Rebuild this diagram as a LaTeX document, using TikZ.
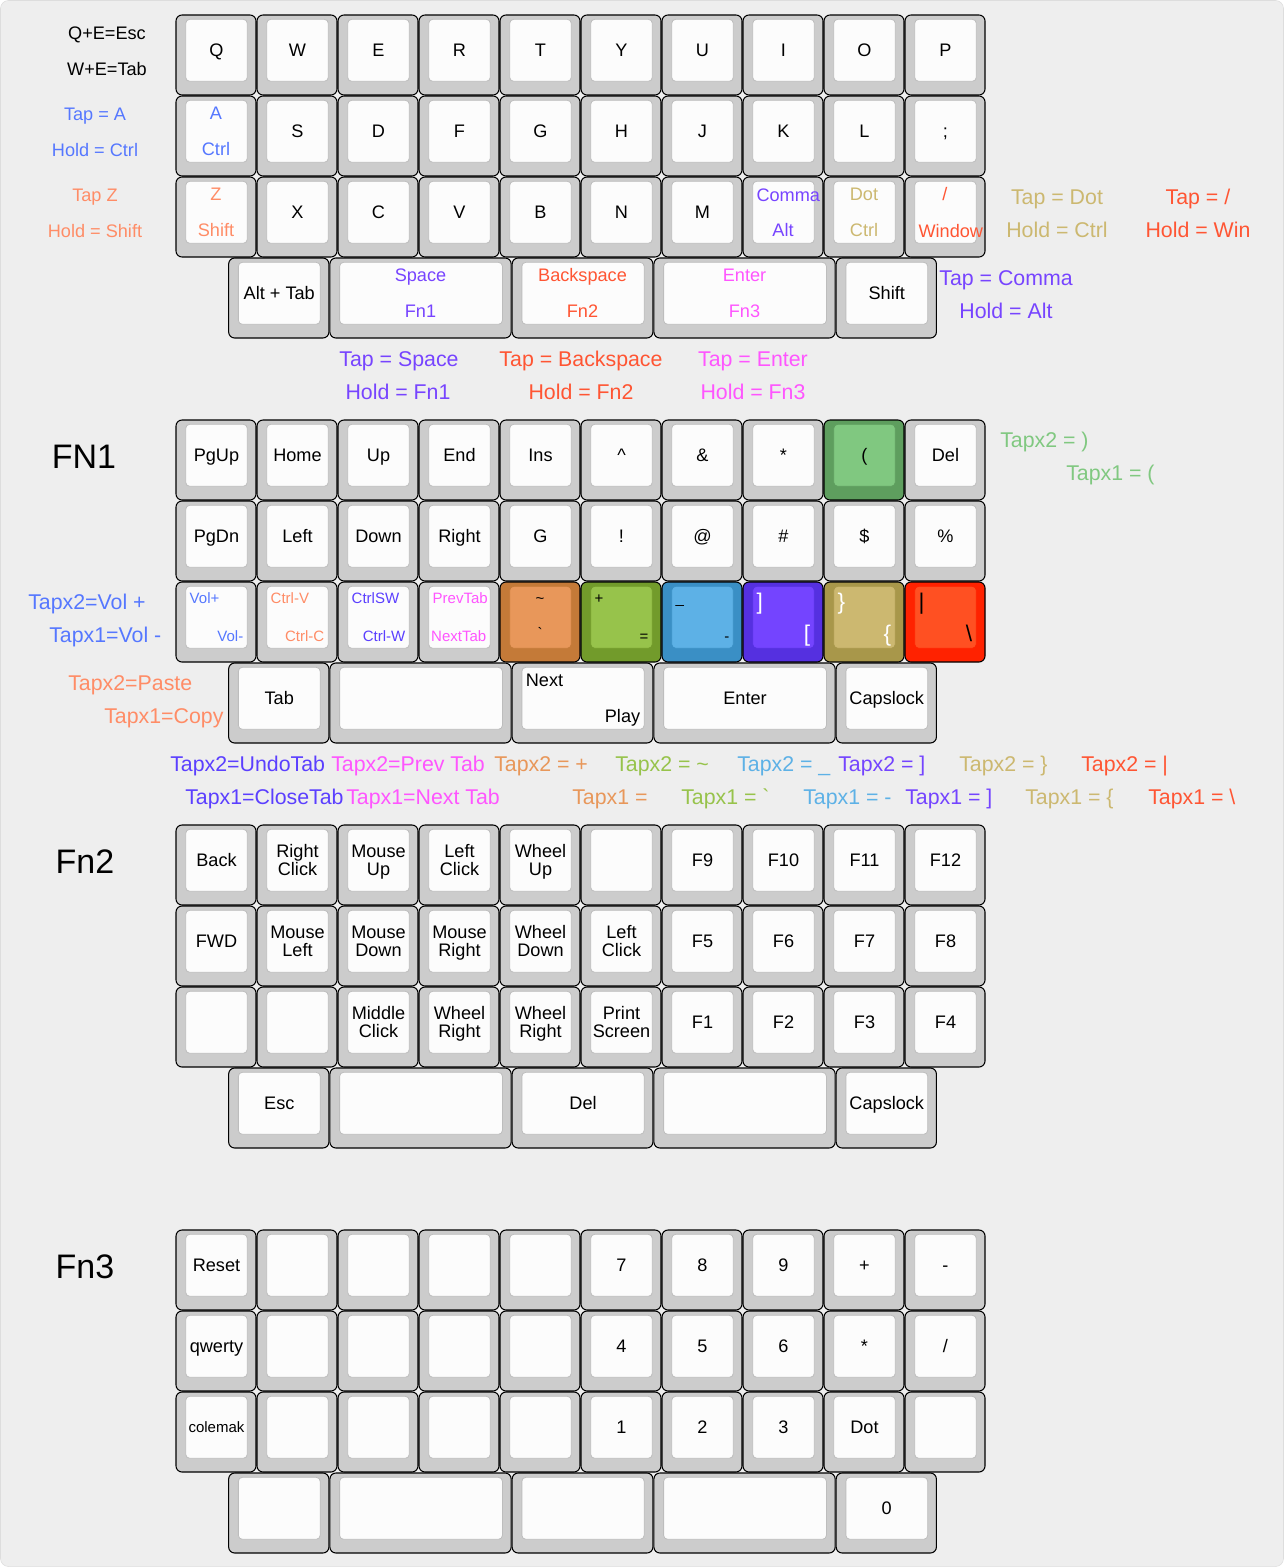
\documentclass[tikz,border=0pt]{standalone}
\usepackage{fontspec}
\setmainfont{Liberation Sans}
\usepackage{tikz}
\usetikzlibrary{calc}
\usetikzlibrary{positioning}

\definecolor{bgcol}{HTML}{EEEEEE}
\definecolor{bgline}{HTML}{DDDDDD}
\definecolor{capgray}{HTML}{CCCCCC}
\definecolor{facewhite}{HTML}{FCFCFC}
\definecolor{faceline}{HTML}{BDBDBD}
\definecolor{tapblue}{HTML}{5577FF}
\definecolor{salmon}{HTML}{FF8C66}
\definecolor{violet}{HTML}{7744FF}
\definecolor{redor}{HTML}{FF5533}
\definecolor{pink}{HTML}{FF55FF}
\definecolor{khaki}{HTML}{CCB870}
\definecolor{green}{HTML}{80C880}
\definecolor{indigo}{HTML}{5B3FFF}
\definecolor{orng}{HTML}{E8975A}
\definecolor{lime}{HTML}{97C34B}
\definecolor{sky}{HTML}{5DB1E6}
\definecolor{purp}{HTML}{7444FF}
\definecolor{grOut}{HTML}{5E9E5E}
\definecolor{orOut}{HTML}{C47A38}
\definecolor{liOut}{HTML}{729B2B}
\definecolor{skOut}{HTML}{3A8FC5}
\definecolor{puOut}{HTML}{5530E0}
\definecolor{khOut}{HTML}{A8974A}
\definecolor{rdOut}{HTML}{FF2200}
\definecolor{rdIn}{HTML}{FF5022}

\newcommand{\keyfont}{\fontsize{13.6}{13.5}\selectfont}
\newcommand{\notefont}{\fontsize{16}{18}\selectfont}
\newcommand{\legfont}{\fontsize{11.25}{12}\selectfont}
\newcommand{\symfont}{\fontsize{17}{18}\selectfont}
\newcommand{\layerfont}{\fontsize{25.5}{26}\selectfont}

% key: [colours] name, x, y (px), width (u), label
\newcommand{\kc}[6][]{%
  \begin{scope}[#1]
    \pgfmathsetmacro{\kw}{#5*81-1}
    \node[keycap, minimum width=\kw*0.75pt] (#2) at ({#3+\kw/2},{#4+40}) {};
    \node[keyface, minimum width=(\kw-18.4)*0.75pt] (#2-f) at ({#3+\kw/2+0.5},{#4+35.3}) {};
    \node[keylbl] (#2-l) at (#2-f.center) {#6};
  \end{scope}}
% tap / hold legends
\newcommand{\tb}[4]{%
  \node[keylbl, text=#2] (#1-t) at ($(#1.north)+(0,18)$) {#3};
  \node[keylbl, text=#2] (#1-b) at ($(#1.north)+(0,54)$) {#4};}
% corner legends
\newcommand{\corner}[4]{%
  \node[#2, anchor=north west] (#1-t) at ($(#1.north west)+(14,11)$) {#3};
  \node[#2, anchor=south east] (#1-b) at ($(#1.north east)+(-13,60)$) {#4};}

\begin{document}
\begin{tikzpicture}[x=0.75pt, y=-0.75pt,
  keycap/.style={draw=black, fill=capgray, line width=0.8pt, rounded corners=4.5pt, minimum height=60pt, inner sep=0pt},
  keyface/.style={draw=faceline, fill=facewhite, line width=0.6pt, rounded corners=3pt, minimum height=46.5pt, inner sep=0pt},
  keylbl/.style={font=\keyfont, inner sep=0pt, align=center, text height=9.7pt, text depth=0pt},
  oneline/.style={},
  twoline/.style={keylbl/.append style={text height=23.2pt}},
  leg/.style={font=\legfont, inner sep=0pt, text height=8.1pt, text depth=0pt},
  sym/.style={font=\symfont, inner sep=0pt, text height=12.2pt, text depth=0pt},
  note/.style={font=\notefont, inner sep=0pt, text height=11.5pt, text depth=0pt},
  layer/.style={font=\layerfont, inner sep=0pt, text height=18.3pt, text depth=0pt},
  grkey/.style={keycap/.append style={fill=grOut}, keyface/.append style={fill=green, draw=grOut}},
  orkey/.style={keycap/.append style={fill=orOut}, keyface/.append style={fill=orng, draw=orOut}},
  likey/.style={keycap/.append style={fill=liOut}, keyface/.append style={fill=lime, draw=liOut}},
  skkey/.style={keycap/.append style={fill=skOut}, keyface/.append style={fill=sky, draw=skOut}},
  pukey/.style={keycap/.append style={fill=puOut}, keyface/.append style={fill=purp, draw=puOut}},
  khkey/.style={keycap/.append style={fill=khOut}, keyface/.append style={fill=khaki, draw=khOut}},
  rdkey/.style={keycap/.append style={fill=rdOut}, keyface/.append style={fill=rdIn, draw=rdOut}},
]
\useasboundingbox (0,0) rectangle (1284,1567);
\filldraw[fill=bgcol, draw=bgline, rounded corners=6pt] (0.5,0.5) rectangle (1283.5,1566.5);

% base layer
\foreach \t [count=\i from 0] in {Q,W,E,R,T,Y,U,I,O,P}
  {\kc{a\i}{176+81*\i}{15}{1}{\t}}
\kc{b0}{176}{96}{1}{}
\tb{b0}{tapblue}{A}{Ctrl}
\foreach \t [count=\i from 1] in {S,D,F,G,H,J,K,L,;}
  {\kc{b\i}{176+81*\i}{96}{1}{\t}}
\kc{c0}{176}{177}{1}{}
\tb{c0}{salmon}{Z}{Shift}
\foreach \t [count=\i from 1] in {X,C,V,B,N,M}
  {\kc{c\i}{176+81*\i}{177}{1}{\t}}
\kc{c7}{743}{177}{1}{}
\node[keylbl, text=violet, anchor=west] (c7-t) at ($(c7-f.west)+(4,-17)$) {Comma};
\node[keylbl, text=violet] (c7-b) at ($(c7.north)+(0,54)$) {Alt};
\kc{c8}{824}{177}{1}{}
\tb{c8}{khaki}{Dot}{Ctrl}
\kc{c9}{905}{177}{1}{}
\node[keylbl, text=redor] (c9-t) at ($(c9.north)+(0,18)$) {/};
\node[keylbl, text=redor, anchor=west] (c9-b) at ($(c9-f.west)+(4,19)$) {Window};
\foreach \x/\w/\t [count=\i] in {0.65/1.25/Alt + Tab, 1.9/2.25/{}, 4.15/1.75/{}, 5.9/2.25/{}, 8.15/1.25/Shift}
  {\kc{d\i}{176+81*\x}{258}{\w}{\t}}
\tb{d2}{violet}{Space}{Fn1}
\tb{d3}{redor}{Backspace}{Fn2}
\tb{d4}{pink}{Enter}{Fn3}

\node[keylbl] (qe) at (107,33) {Q+E=Esc};
\node[keylbl] (we) at (107,69) {W+E=Tab};
\node[keylbl, text=tapblue] (tapa) at (95,114) {Tap = A};
\node[keylbl, text=tapblue] (holda) at (95,150) {Hold = Ctrl};
\node[keylbl, text=salmon] (tapz) at (95,195) {Tap Z};
\node[keylbl, text=salmon] (holdz) at (95,231) {Hold = Shift};
\node[note, text=khaki] (tapdot) at (1057,197) {Tap = Dot};
\node[note, text=khaki] (holddot) at (1057,230) {Hold = Ctrl};
\node[note, text=redor] (tapsl) at (1198,197) {Tap = /};
\node[note, text=redor] (holdsl) at (1198,230) {Hold = Win};
\node[note, text=violet] (tapcom) at (1006,278) {Tap = Comma};
\node[note, text=violet] (holdcom) at (1006,311) {Hold = Alt};
\node[note, text=violet] (tapspc) at (399,359) {Tap = Space};
\node[note, text=violet] (holdspc) at (398,392) {Hold = Fn1};
\node[note, text=redor] (tapbs) at (581,359) {Tap = Backspace};
\node[note, text=redor] (holdbs) at (581,392) {Hold = Fn2};
\node[note, text=pink] (tapent) at (753,359) {Tap = Enter};
\node[note, text=pink] (holdent) at (753,392) {Hold = Fn3};

% FN1
\node[layer] (fn1) at (84,456) {FN1};
\foreach \t [count=\i from 0] in {PgUp,Home,Up,End,Ins,\textasciicircum,\&,*}
  {\kc{e\i}{176+81*\i}{420}{1}{\t}}
\kc[grkey]{e8}{824}{420}{1}{(}
\kc{e9}{905}{420}{1}{Del}
\foreach \t [count=\i from 0] in {PgDn,Left,Down,Right,G,!,@,\#,\$,\%}
  {\kc{f\i}{176+81*\i}{501}{1}{\t}}
\kc{g0}{176}{582}{1}{}
\corner{g0}{leg, text=tapblue}{Vol+}{Vol-}
\kc{g1}{257}{582}{1}{}
\corner{g1}{leg, text=salmon}{Ctrl-V}{Ctrl-C}
\kc{g2}{338}{582}{1}{}
\corner{g2}{leg, text=indigo}{CtrlSW}{Ctrl-W}
\kc{g3}{419}{582}{1}{}
\corner{g3}{leg, text=pink}{PrevTab}{NextTab}
\kc[orkey]{g4}{500}{582}{1}{}
\node[leg] (g4-t) at ($(g4.north)+(0,17)$) {\textasciitilde};
\node[leg] (g4-b) at ($(g4.north)+(0,52)$) {\textasciigrave};
\kc[likey]{g5}{581}{582}{1}{}
\corner{g5}{leg}{+}{=}
\kc[skkey]{g6}{662}{582}{1}{}
\corner{g6}{leg}{\_}{-}
\kc[pukey]{g7}{743}{582}{1}{}
\corner{g7}{sym, text=white}{]}{[}
\kc[khkey]{g8}{824}{582}{1}{}
\corner{g8}{sym, text=white}{\}}{\{}
\kc[rdkey]{g9}{905}{582}{1}{}
\corner{g9}{sym}{\textbar}{\textbackslash}
\foreach \x/\w/\t [count=\i] in {0.65/1.25/Tab, 1.9/2.25/{}, 4.15/1.75/{}, 5.9/2.25/Enter, 8.15/1.25/Capslock}
  {\kc{h\i}{176+81*\x}{663}{\w}{\t}}
\corner{h3}{keylbl}{Next}{Play}

\node[note, text=green, anchor=west] (par2) at (1000,440) {Tapx2 = )};
\node[note, text=green, anchor=west] (par1) at (1066,473) {Tapx1 = (};
\node[note, text=tapblue, anchor=west] (vol2) at (28,602) {Tapx2=Vol +};
\node[note, text=tapblue, anchor=west] (vol1) at (49,635) {Tapx1=Vol -};
\node[note, text=salmon, anchor=west] (paste) at (68,683) {Tapx2=Paste};
\node[note, text=salmon, anchor=west] (copy) at (104,716) {Tapx1=Copy};
\foreach \x/\c/\t [count=\i] in {170/indigo/Tapx2=UndoTab, 331/pink/Tapx2=Prev Tab, 494/orng/Tapx2 = +, 615/lime/Tapx2 = \textasciitilde, 737/sky/Tapx2 = \_, 838/purp/Tapx2 = ], 959/khaki/Tapx2 = \}, 1081/redor/Tapx2 = \textbar}
  {\node[note, text=\c, anchor=west] (two\i) at (\x,764) {\t};}
\foreach \x/\c/\t [count=\i] in {185/indigo/Tapx1=CloseTab, 346/pink/Tapx1=Next Tab, 572/orng/Tapx1 =, 681/lime/Tapx1 = \textasciigrave, 803/sky/Tapx1 = -, 905/purp/Tapx1 = ], 1025/khaki/Tapx1 = \{, 1148/redor/Tapx1 = \textbackslash}
  {\node[note, text=\c, anchor=west] (one\i) at (\x,797) {\t};}

% Fn2
\node[layer] (fn2) at (85,861) {Fn2};
\foreach \t/\s [count=\i from 0] in {Back/oneline, Right\\Click/twoline, Mouse\\Up/twoline, Left\\Click/twoline, Wheel\\Up/twoline, {}/oneline, F9/oneline, F10/oneline, F11/oneline, F12/oneline}
  {\kc[\s]{m\i}{176+81*\i}{825}{1}{\t}}
\foreach \t/\s [count=\i from 0] in {FWD/oneline, Mouse\\Left/twoline, Mouse\\Down/twoline, Mouse\\Right/twoline, Wheel\\Down/twoline, Left\\Click/twoline, F5/oneline, F6/oneline, F7/oneline, F8/oneline}
  {\kc[\s]{n\i}{176+81*\i}{906}{1}{\t}}
\foreach \t/\s [count=\i from 0] in {{}/oneline, {}/oneline, Middle\\Click/twoline, Wheel\\Right/twoline, Wheel\\Right/twoline, Print\\Screen/twoline, F1/oneline, F2/oneline, F3/oneline, F4/oneline}
  {\kc[\s]{o\i}{176+81*\i}{987}{1}{\t}}
\foreach \x/\w/\t [count=\i] in {0.65/1.25/Esc, 1.9/2.25/{}, 4.15/1.75/Del, 5.9/2.25/{}, 8.15/1.25/Capslock}
  {\kc{p\i}{176+81*\x}{1068}{\w}{\t}}

% Fn3
\node[layer] (fn3) at (85,1266) {Fn3};
\foreach \t [count=\i from 0] in {Reset,{},{},{},{},7,8,9,+,-}
  {\kc{q\i}{176+81*\i}{1230}{1}{\t}}
\foreach \t [count=\i from 0] in {qwerty,{},{},{},{},4,5,6,*,/}
  {\kc{r\i}{176+81*\i}{1311}{1}{\t}}
\kc{s0}{176}{1392}{1}{}
\node[leg] (s0-c) at (s0-f.center) {colemak};
\foreach \t [count=\i from 1] in {{},{},{},{},1,2,3,Dot,{}}
  {\kc{s\i}{176+81*\i}{1392}{1}{\t}}
\foreach \x/\w/\t [count=\i] in {0.65/1.25/{}, 1.9/2.25/{}, 4.15/1.75/{}, 5.9/2.25/{}, 8.15/1.25/0}
  {\kc{u\i}{176+81*\x}{1473}{\w}{\t}}
\end{tikzpicture}
\end{document}
